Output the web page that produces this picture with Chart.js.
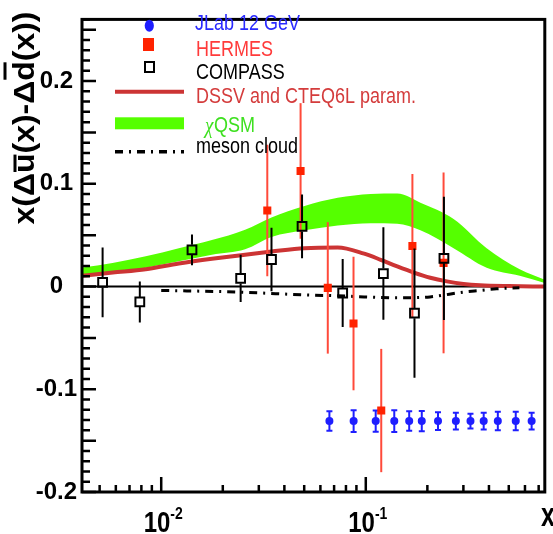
<!DOCTYPE html>
<html>
<head>
<meta charset="utf-8">
<script src="https://cdn.jsdelivr.net/npm/chart.js@4/dist/chart.umd.min.js"></script>
<style>
html,body{margin:0;padding:0;background:#fff;}
canvas{display:block;}
</style>
</head>
<body>
<canvas id="c" width="553" height="534"></canvas>
<script>
// Axis ranges and tick values
const xMin = 0.0041, xMax = 0.75;
const yMin = -0.2, yMax = 0.26;
const yTickValues = [-0.2, -0.1, 0, 0.1, 0.2];
const xTickLabels = [{ v: 0.01, base: '10', exp: '-2' }, { v: 0.1, base: '10', exp: '-1' }];

// JLab 12 GeV projected points
const jlabX   = [0.0664, 0.0872, 0.1118, 0.1378, 0.1630, 0.1878, 0.2254, 0.2756, 0.3249, 0.3770, 0.4420, 0.5408, 0.6467];
const jlabY   = [-0.131, -0.131, -0.131, -0.131, -0.131, -0.131, -0.131, -0.131, -0.131, -0.131, -0.131, -0.131, -0.131];
const jlabErr = [0.0095, 0.0106, 0.0103, 0.0106, 0.0095, 0.0098, 0.0087, 0.0082, 0.0071, 0.0082, 0.0090, 0.0090, 0.0082];

// HERMES
const hermesX   = [0.033, 0.048, 0.0652, 0.0871, 0.119, 0.169, 0.240];
const hermesY   = [0.074, 0.1125, -0.0013, -0.036, -0.1207, 0.0395, 0.023];
const hermesErr = [0.064, 0.066, 0.064, 0.065, 0.060, 0.070, 0.088];

// COMPASS
const compassX   = [0.00517, 0.00786, 0.01414, 0.02445, 0.0346, 0.0488, 0.0771, 0.1219, 0.173, 0.241];
const compassY   = [0.004, -0.015, 0.0357, 0.0079, 0.0263, 0.0585, -0.0063, 0.0126, -0.0259, 0.0275];
const compassErr = [0.034, 0.020, 0.015, 0.023, 0.031, 0.031, 0.033, 0.045, 0.063, 0.060];

// DSSV and CTEQ6L parametrisation
const dssvX = [0.0041, 0.0058, 0.0084, 0.0122, 0.0177, 0.0257, 0.0346, 0.0502, 0.0729, 0.0982, 0.1183, 0.1425, 0.1718, 0.2067, 0.2491, 0.3004, 0.3618, 0.5, 0.75];
const dssvY = [0.0105, 0.0136, 0.0168, 0.0224, 0.027, 0.031, 0.034, 0.0373, 0.038, 0.032, 0.026, 0.0195, 0.0135, 0.0085, 0.005, 0.0025, 0.0012, 0.0004, 0.0];

// chiral quark soliton model band
const qsmX     = [0.0041, 0.00578, 0.0084, 0.01219, 0.01769, 0.0257, 0.0346, 0.0502, 0.0729, 0.1057, 0.1425, 0.1849, 0.2686, 0.3898, 0.5655, 0.75];
const qsmUpper = [0.0185, 0.023, 0.0294, 0.0373, 0.0452, 0.0553, 0.0673, 0.0784, 0.0863, 0.090, 0.0905, 0.0815, 0.0657, 0.0373, 0.0168, 0.0066];
const qsmLower = [0.012, 0.0136, 0.0183, 0.0246, 0.031, 0.0363, 0.0483, 0.0547, 0.0594, 0.0616, 0.061, 0.0547, 0.0373, 0.0183, 0.0104, 0.0035];

// meson cloud model
const mesonX = [0.01, 0.0238, 0.0562, 0.0674, 0.0982, 0.1425, 0.206, 0.3004, 0.3618, 0.4358, 0.5636];
const mesonY = [-0.0038, -0.0054, -0.0085, -0.0088, -0.0101, -0.011, -0.0101, -0.0054, -0.0038, -0.0022, -0.0013];

const BLUE = '#1e1eff', RED = '#ff2200', RED_BAR = '#ff4a3a', DSSV_RED = 'rgb(204,52,52)', GREEN = '#55ff00';
const SANS = '"Liberation Sans", Arial, Helvetica, sans-serif';

const pts = (xs, ys) => xs.map((x, i) => ({ x: x, y: ys[i] }));

function drawErrorBars(chart, meta, ds) {
  const ctx = chart.ctx, ys = chart.scales.y;
  ctx.save();
  ctx.strokeStyle = ds.errColor;
  ctx.lineWidth = ds.errWidth;
  meta.data.forEach((el, i) => {
    const raw = ds.data[i], e = ds.errors[i];
    const x = el.x;
    const yTop = ys.getPixelForValue(raw.y + e);
    const yBot = ys.getPixelForValue(raw.y - e);
    const gap = ds.errGap || 0;
    ctx.beginPath();
    if (gap) {
      ctx.moveTo(x, yTop); ctx.lineTo(x, el.y - gap);
      ctx.moveTo(x, el.y + gap); ctx.lineTo(x, yBot);
    } else {
      ctx.moveTo(x, yTop); ctx.lineTo(x, yBot);
    }
    if (ds.capWidth) {
      const c = ds.capWidth / 2;
      ctx.moveTo(x - c, yTop); ctx.lineTo(x + c, yTop);
      ctx.moveTo(x - c, yBot); ctx.lineTo(x + c, yBot);
    }
    ctx.stroke();
  });
  ctx.restore();
}

function stretchedText(ctx, text, x, y, font, color, sy, align) {
  ctx.save();
  ctx.translate(x, y);
  ctx.scale(1, sy);
  ctx.font = font;
  ctx.fillStyle = color;
  ctx.textAlign = align || 'left';
  ctx.textBaseline = 'middle';
  ctx.fillText(text, 0, 0);
  ctx.restore();
}

const decor = {
  id: 'decor',
  beforeDatasetsDraw(chart) {
    const ctx = chart.ctx, ys = chart.scales.y, a = chart.chartArea;
    const y0 = ys.getPixelForValue(0);
    ctx.save();
    ctx.strokeStyle = '#000';
    ctx.lineWidth = 2;
    ctx.beginPath();
    ctx.moveTo(a.left, y0); ctx.lineTo(a.right, y0);
    ctx.stroke();
    ctx.restore();
  },
  beforeDatasetDraw(chart, args) {
    const ds = chart.data.datasets[args.index];
    if (ds.errors) drawErrorBars(chart, args.meta, ds);
  },
  afterDraw(chart) {
    const ctx = chart.ctx, xs = chart.scales.x, ys = chart.scales.y, a = chart.chartArea;
    ctx.save();
    // frame
    ctx.strokeStyle = '#000';
    ctx.lineWidth = 3;
    ctx.strokeRect(a.left, a.top, a.right - a.left, a.bottom - a.top);

    // y ticks (inside)
    ctx.lineWidth = 2.5;
    ctx.beginPath();
    for (let k = Math.ceil(yMin * 100); k <= Math.floor(yMax * 100); k++) {
      const py = ys.getPixelForValue(k / 100);
      const len = (k % 5 === 0) ? 14 : 8;
      ctx.moveTo(a.left, py); ctx.lineTo(a.left + len, py);
    }
    // x ticks (inside)
    for (let d = -3; d <= 0; d++) {
      for (let m = 1; m <= 9; m++) {
        const v = m * Math.pow(10, d);
        if (v < xMin || v > xMax) continue;
        const px = xs.getPixelForValue(v);
        const len = m === 1 ? 15 : 7;
        ctx.moveTo(px, a.bottom); ctx.lineTo(px, a.bottom - len);
      }
    }
    ctx.stroke();

    // x tick labels with superscript exponent
    xTickLabels.forEach(t => {
      const px = xs.getPixelForValue(t.v);
      ctx.font = 'bold 24px ' + SANS;
      const wb = ctx.measureText(t.base).width;
      ctx.font = 'bold 14px ' + SANS;
      const we = ctx.measureText(t.exp).width;
      const x0 = px - (wb + we) / 2 + 2;
      ctx.save();
      ctx.translate(x0, 532);
      ctx.scale(1, 1.2);
      ctx.fillStyle = '#000';
      ctx.textBaseline = 'alphabetic';
      ctx.textAlign = 'left';
      ctx.font = 'bold 24px ' + SANS;
      ctx.fillText(t.base, 0, 0);
      ctx.font = 'bold 14px ' + SANS;
      ctx.fillText(t.exp, wb, -11);
      ctx.restore();
    });

    // x axis title
    ctx.save();
    ctx.translate(541, 526);
    ctx.scale(1, 1.35);
    ctx.font = 'bold 25px ' + SANS;
    ctx.fillStyle = '#000';
    ctx.textBaseline = 'alphabetic';
    ctx.fillText('x', 0, 0);
    ctx.restore();

    // y axis title, rotated, with overlines on the antiquark labels
    const parts = [['x(\u0394', false], ['u', true], ['(x)-\u0394', false], ['d', true], ['(x))', false]];
    ctx.save();
    ctx.font = 'bold 30px ' + SANS;
    const full = parts.map(p => p[0]).join('');
    const wFull = ctx.measureText(full).width;
    const sx = 213 / wFull;
    ctx.translate(34, 118);
    ctx.rotate(-Math.PI / 2);
    ctx.scale(sx, 1);
    ctx.fillStyle = '#000';
    ctx.textBaseline = 'alphabetic';
    ctx.textAlign = 'left';
    let cx = -wFull / 2;
    parts.forEach(p => {
      const w = ctx.measureText(p[0]).width;
      ctx.fillText(p[0], cx, 0);
      if (p[1]) {
        const yb = p[0] === 'd' ? -29 : -19;
        ctx.fillRect(cx + 1, yb - 1.5, w - 2, 3);
      }
      cx += w;
    });
    ctx.restore();

    // legend
    const lx0 = 115, lx1 = 184, tx = 196;
    // JLab marker
    ctx.fillStyle = BLUE;
    ctx.beginPath(); ctx.ellipse(149.3, 25.7, 4.6, 6, 0, 0, Math.PI * 2); ctx.fill();
    // HERMES marker
    ctx.fillStyle = RED;
    ctx.fillRect(143, 38, 11, 13);
    // COMPASS marker
    ctx.strokeStyle = '#000'; ctx.lineWidth = 2;
    ctx.strokeRect(145, 62, 9, 10);
    // DSSV line
    ctx.strokeStyle = DSSV_RED; ctx.lineWidth = 4;
    ctx.beginPath(); ctx.moveTo(lx0, 91.7); ctx.lineTo(lx1, 91.7); ctx.stroke();
    // QSM band
    ctx.fillStyle = GREEN;
    ctx.fillRect(lx0, 117.3, lx1 - lx0, 12);
    // meson cloud line
    ctx.strokeStyle = '#000'; ctx.lineWidth = 3.5;
    ctx.setLineDash([8, 6, 2, 6]);
    ctx.beginPath(); ctx.moveTo(lx0, 151.7); ctx.lineTo(lx1, 151.7); ctx.stroke();
    ctx.setLineDash([]);

    const lf = '18px ' + SANS;
    stretchedText(ctx, 'JLab 12 GeV', tx - 1, 23.8, lf, '#2a2aff', 1.2);
    stretchedText(ctx, 'HERMES', tx, 49.8, lf, '#ff3a3a', 1.2);
    stretchedText(ctx, 'COMPASS', tx, 73, lf, '#000', 1.2);
    stretchedText(ctx, 'DSSV and CTEQ6L param.', tx, 96.6, lf, '#d43c3c', 1.2);
    stretchedText(ctx, '\u03C7', 205, 127, 'italic 19px "Liberation Serif", serif', '#3ee020', 1.2);
    stretchedText(ctx, 'QSM', 214, 126, lf, '#3ee020', 1.2);
    stretchedText(ctx, 'meson cloud', tx, 147, lf, '#000', 1.2);
    ctx.restore();
  }
};

new Chart(document.getElementById('c'), {
  type: 'line',
  data: {
    datasets: [
      {
        label: 'JLab 12 GeV', data: pts(jlabX, jlabY), showLine: false, order: 2,
        pointStyle: 'circle', pointRadius: 4, pointBackgroundColor: BLUE, pointBorderWidth: 0,
        errors: jlabErr, errColor: BLUE, errWidth: 2, capWidth: 6
      },
      {
        label: 'HERMES', data: pts(hermesX, hermesY), showLine: false, order: 1,
        pointStyle: 'rect', pointRadius: 5.7, pointBackgroundColor: RED, pointBorderWidth: 0,
        errors: hermesErr, errColor: RED_BAR, errWidth: 2
      },
      {
        label: 'COMPASS', data: pts(compassX, compassY), showLine: false, order: 0,
        pointStyle: 'rect', pointRadius: 6.2, pointBackgroundColor: 'rgba(0,0,0,0)',
        pointBorderColor: '#000', pointBorderWidth: 2,
        errors: compassErr, errColor: '#000', errWidth: 2, errGap: 5
      },
      {
        label: 'chiQSM upper', data: pts(qsmX, qsmUpper), order: 6,
        borderWidth: 0, borderColor: GREEN, pointRadius: 0, backgroundColor: GREEN,
        fill: '+1', cubicInterpolationMode: 'monotone'
      },
      {
        label: 'chiQSM lower', data: pts(qsmX, qsmLower), order: 6,
        borderWidth: 0, borderColor: GREEN, pointRadius: 0, fill: false,
        cubicInterpolationMode: 'monotone'
      },
      {
        label: 'DSSV and CTEQ6L param.', data: pts(dssvX, dssvY), order: 5,
        borderColor: DSSV_RED, borderWidth: 4, pointRadius: 0, fill: false,
        cubicInterpolationMode: 'monotone'
      },
      {
        label: 'meson cloud', data: pts(mesonX, mesonY), order: 4,
        borderColor: '#000', borderWidth: 3, borderDash: [8, 6, 2, 6], pointRadius: 0, fill: false,
        cubicInterpolationMode: 'monotone'
      }
    ]
  },
  options: {
    responsive: false,
    animation: false,
    devicePixelRatio: 1,
    layout: { padding: { top: 6, right: 5, left: 0, bottom: 0 } },
    plugins: { legend: { display: false }, tooltip: { enabled: false } },
    scales: {
      x: {
        type: 'logarithmic', min: xMin, max: xMax,
        grid: { display: false }, border: { display: false },
        ticks: { display: false },
        afterFit: s => { s.height = 42; }
      },
      y: {
        type: 'linear', min: yMin, max: yMax,
        grid: { display: false, drawTicks: false }, border: { display: false },
        afterBuildTicks: s => { s.ticks = yTickValues.map(v => ({ value: v })); },
        ticks: {
          color: '#000', padding: 5, crossAlign: 'center',
          font: { family: SANS, weight: 'bold', size: 24 },
          callback: v => String(Math.round(v * 10) / 10)
        },
        afterFit: s => { s.width = 82; }
      }
    }
  },
  plugins: [decor]
});
</script>
</body>
</html>
